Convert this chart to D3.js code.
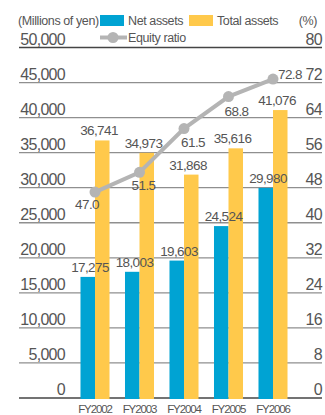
<!DOCTYPE html>
<html>
<head>
<meta charset="utf-8">
<script src="https://cdn.jsdelivr.net/npm/d3@7"></script>
<style>
  html, body { margin: 0; padding: 0; background: #fff; }
  svg { display: block; }
  text { font-family: "Liberation Sans", Arial, Helvetica, sans-serif; fill: #555; }
</style>
</head>
<body>
<svg id="chart" width="325" height="415"></svg>
<script>
// Fiscal years and the three series (amounts in millions of yen, ratio in %)
const years = ["FY2002", "FY2003", "FY2004", "FY2005", "FY2006"];
const netAssets = [17275, 18003, 19603, 24524, 29980];
const totalAssets = [36741, 34973, 31868, 35616, 41076];
const equityRatio = [47.0, 51.5, 61.5, 68.8, 72.8];
const amountTicks = [0, 5000, 10000, 15000, 20000, 25000, 30000, 35000, 40000, 45000, 50000];
const ratioTicks = [0, 8, 16, 24, 32, 40, 48, 56, 64, 72, 80];

const BLUE = "#00a3d3";
const YELLOW = "#ffc94b";
const GREY = "#b4b4b4";
const TEXT = "#555";

const svg = d3.select("#chart");

const x = d3.scaleBand().domain(years).range([72.75, 295.25])
  .paddingInner(0.348).paddingOuter(0.174);
const xSub = d3.scaleBand().domain(["net", "total"]).range([0, x.bandwidth()]);
const y = d3.scaleLinear().domain([0, 50000]).range([398, 47.5]);
const yR = d3.scaleLinear().domain([0, 80]).range([398, 47.5]);

const fmt = d3.format(",");

// Horizontal grid lines, one per tick
svg.append("g").selectAll("line").data(amountTicks).join("line")
  .attr("x1", 19).attr("x2", 322)
  .attr("y1", d => y(d)).attr("y2", d => y(d))
  .attr("stroke", d => (d === 50000 || d === 0) ? "#444" : "#8f8f8f")
  .attr("stroke-width", d => (d === 50000 || d === 0) ? 1.5 : 1.3);

// Left axis: labels sit just above their grid line
const leftAxis = svg.append("g").attr("transform", "translate(65,0)")
  .call(d3.axisLeft(y).tickValues(amountTicks).tickSize(0).tickPadding(0).tickFormat(fmt));
leftAxis.select(".domain").remove();
leftAxis.selectAll("text")
  .attr("dy", "-3.5").attr("x", 0)
  .style("font-size", "16px").style("letter-spacing", "-0.7px")
  .attr("fill", TEXT);

// Right axis for the ratio
const rightAxis = svg.append("g").attr("transform", "translate(322,0)")
  .call(d3.axisLeft(yR).tickValues(ratioTicks).tickSize(0).tickPadding(0));
rightAxis.select(".domain").remove();
rightAxis.selectAll("text")
  .attr("dy", "-3.5").attr("x", 0)
  .style("font-size", "16px").style("letter-spacing", "-0.7px")
  .attr("fill", TEXT);

// Bars
const groups = svg.append("g").selectAll("g").data(years).join("g")
  .attr("transform", d => `translate(${x(d)},0)`);

groups.append("rect")
  .attr("x", xSub("net")).attr("width", xSub.bandwidth())
  .attr("y", (d, i) => y(netAssets[i]))
  .attr("height", (d, i) => y(0) - y(netAssets[i]) + 1)
  .attr("fill", BLUE);

groups.append("rect")
  .attr("x", xSub("total")).attr("width", xSub.bandwidth())
  .attr("y", (d, i) => y(totalAssets[i]))
  .attr("height", (d, i) => y(0) - y(totalAssets[i]) + 1)
  .attr("fill", YELLOW);

// Bar value labels
const valueStyle = sel => sel.style("font-size", "13.5px").style("letter-spacing", "-0.6px")
  .attr("text-anchor", "middle").attr("fill", "#4a4a4a");

svg.append("g").selectAll("text").data(years).join("text")
  .attr("x", d => x(d) + x.bandwidth() / 2 - 5)
  .attr("y", (d, i) => y(netAssets[i]) - 5)
  .text((d, i) => fmt(netAssets[i]))
  .call(valueStyle);

svg.append("g").selectAll("text").data(years).join("text")
  .attr("x", d => x(d) + x.bandwidth() / 2 + 4)
  .attr("y", (d, i) => y(totalAssets[i]) - 5)
  .text((d, i) => fmt(totalAssets[i]))
  .call(valueStyle);

// Equity ratio line with markers
const cx = d => x(d) + x.bandwidth() / 2;
const line = d3.line().x(d => cx(d)).y((d, i) => yR(equityRatio[i]));
svg.append("path").datum(years)
  .attr("d", line)
  .attr("fill", "none").attr("stroke", GREY).attr("stroke-width", 4);

svg.append("g").selectAll("circle").data(years).join("circle")
  .attr("cx", d => cx(d)).attr("cy", (d, i) => yR(equityRatio[i]))
  .attr("r", 5.5).attr("fill", GREY);

// Ratio labels: placed beside each marker so they clear the line
const ratioLabelPlacement = [
  { dx: -8, dy: 17, anchor: "middle" },
  { dx: 4, dy: 18, anchor: "middle" },
  { dx: 9, dy: 18, anchor: "middle" },
  { dx: 8, dy: 19, anchor: "middle" },
  { dx: 5, dy: 0, anchor: "start" }
];
svg.append("g").selectAll("text").data(years).join("text")
  .attr("x", (d, i) => cx(d) + ratioLabelPlacement[i].dx)
  .attr("y", (d, i) => yR(equityRatio[i]) + ratioLabelPlacement[i].dy)
  .text((d, i) => d3.format(".1f")(equityRatio[i]))
  .call(valueStyle)
  .attr("text-anchor", (d, i) => ratioLabelPlacement[i].anchor);

// Category labels under the baseline
svg.append("g").selectAll("text").data(years).join("text")
  .attr("x", d => cx(d)).attr("y", 413)
  .attr("text-anchor", "middle")
  .style("font-size", "11.5px").style("letter-spacing", "-1.1px")
  .attr("fill", TEXT)
  .text(d => d);

// Legend and unit captions
const legend = svg.append("g");
const legendText = sel => sel.style("font-size", "12.5px").style("letter-spacing", "-0.4px").attr("fill", TEXT);

legend.append("text").attr("x", 18).attr("y", 24.5).text("(Millions of yen)").call(legendText);
legend.append("rect").attr("x", 100).attr("y", 15).attr("width", 24).attr("height", 11).attr("fill", BLUE);
legend.append("text").attr("x", 128).attr("y", 24.5).text("Net assets").call(legendText);
legend.append("rect").attr("x", 189).attr("y", 15).attr("width", 24).attr("height", 11).attr("fill", YELLOW);
legend.append("text").attr("x", 217).attr("y", 24.5).text("Total assets").call(legendText);
legend.append("text").attr("x", 317).attr("y", 24.5).attr("text-anchor", "end").text("(%)").call(legendText);

legend.append("line").attr("x1", 100).attr("x2", 127).attr("y1", 37.5).attr("y2", 37.5)
  .attr("stroke", GREY).attr("stroke-width", 4);
legend.append("circle").attr("cx", 113).attr("cy", 37.5).attr("r", 5.5).attr("fill", GREY);
legend.append("text").attr("x", 128).attr("y", 42).text("Equity ratio").call(legendText);
</script>
</body>
</html>
